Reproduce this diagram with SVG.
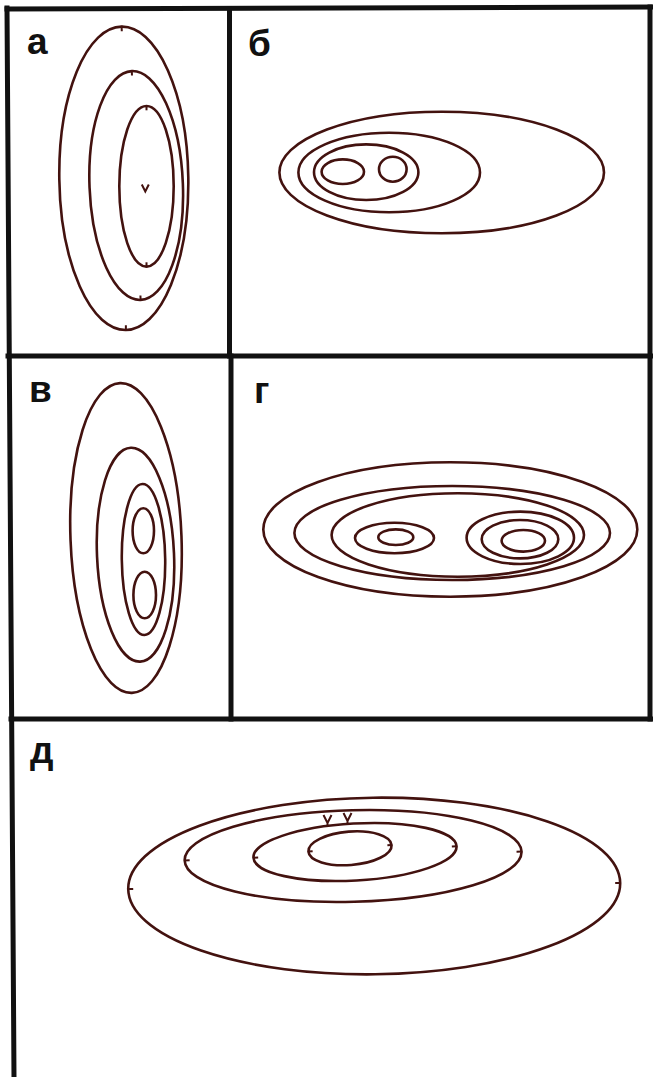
<svg xmlns="http://www.w3.org/2000/svg" width="653" height="1077" viewBox="0 0 653 1077">
<style>
.frame{stroke:#111;stroke-width:5;fill:none;stroke-linecap:square}
.ring{fill:none;stroke:#43120f;stroke-width:2.6}
.tick{stroke:#43120f;stroke-width:2;fill:none}
.lbl{font-family:"Liberation Sans",Arial,sans-serif;font-weight:bold;font-size:37px;fill:#111}
</style>
<rect width="653" height="1077" fill="#fff"/>
<g id="frame">
<line class="frame" x1="7" y1="9" x2="653" y2="7"/>
<line class="frame" x1="7" y1="8" x2="14" y2="1077"/>
<line class="frame" x1="650" y1="7" x2="650" y2="719"/>
<line class="frame" x1="229.5" y1="9" x2="229.5" y2="356"/>
<line class="frame" x1="8" y1="356" x2="653" y2="356"/>
<line class="frame" x1="231" y1="356" x2="231" y2="719"/>
<line class="frame" x1="11" y1="719" x2="653" y2="719"/>
</g>
<g id="panel-a">
<text class="lbl" x="27" y="54">а</text>
<g transform="translate(123.8,178.3) rotate(-0.8)"><ellipse class="ring" rx="64.5" ry="151.7"/><line class="tick" x1="0" y1="-152.5" x2="0" y2="-147"/><line class="tick" x1="0" y1="152.5" x2="0" y2="147"/></g>
<g transform="translate(136.2,185.5) rotate(-2.2)"><ellipse class="ring" rx="46.7" ry="114.5"/><line class="tick" x1="0" y1="-115.3" x2="0" y2="-110"/><line class="tick" x1="0" y1="115.3" x2="0" y2="110"/></g>
<g transform="translate(146.5,186.3)"><ellipse class="ring" rx="27.2" ry="80.3"/><line class="tick" x1="0" y1="-81" x2="0" y2="-76"/><line class="tick" x1="0" y1="81" x2="0" y2="76"/></g>
<polyline class="tick" points="141.8,184.5 145.3,191.5 148.8,184.5"/>
</g>
<g id="panel-b">
<text class="lbl" x="248" y="56">б</text>
<ellipse class="ring" cx="441.7" cy="172.5" rx="162.3" ry="60.8"/>
<ellipse class="ring" cx="389.2" cy="172.5" rx="90.8" ry="39.8"/>
<ellipse class="ring" cx="366.2" cy="172.2" rx="52.2" ry="27.8"/>
<ellipse class="ring" cx="342.8" cy="171.7" rx="21.2" ry="12.3"/>
<ellipse class="ring" cx="392.8" cy="169.2" rx="13.8" ry="12.5"/>
</g>
<g id="panel-v">
<text class="lbl" x="29" y="402">в</text>
<ellipse class="ring" rx="55.5" ry="155" transform="translate(126,538) rotate(-2.2)"/>
<ellipse class="ring" rx="38.5" ry="107" transform="translate(135.5,554.7) rotate(-2.5)"/>
<ellipse class="ring" rx="21.7" ry="75.5" transform="translate(143.5,559.5) rotate(-0.7)"/>
<ellipse class="ring" cx="143.3" cy="530.8" rx="10.7" ry="22.5"/>
<ellipse class="ring" cx="144.7" cy="595" rx="11.3" ry="23.3"/>
</g>
<g id="panel-g">
<text class="lbl" x="254" y="403">г</text>
<ellipse class="ring" cx="450.3" cy="529.5" rx="187" ry="67.2"/>
<ellipse class="ring" cx="452.2" cy="533" rx="157.8" ry="47"/>
<ellipse class="ring" cx="457.8" cy="535" rx="126.2" ry="41.7"/>
<ellipse class="ring" cx="394.5" cy="538" rx="39.5" ry="15.3"/>
<ellipse class="ring" cx="395.8" cy="537.2" rx="17.5" ry="7.8"/>
<ellipse class="ring" cx="520.3" cy="537.8" rx="53.7" ry="26.2"/>
<ellipse class="ring" cx="520" cy="539.2" rx="38.3" ry="19.2"/>
<ellipse class="ring" cx="523.3" cy="540.8" rx="21.7" ry="10.8"/>
</g>
<g id="panel-d">
<text class="lbl" x="30" y="763">д</text>
<g transform="translate(374.2,886) rotate(-0.7)"><ellipse class="ring" rx="246" ry="88.3"/><line class="tick" x1="-246.5" y1="0" x2="-241" y2="0"/><line class="tick" x1="246.5" y1="0" x2="241" y2="0"/></g>
<g transform="translate(353.1,856) rotate(-1.5)"><ellipse class="ring" rx="168.5" ry="45.8"/><line class="tick" x1="-169" y1="0" x2="-163.5" y2="0"/><line class="tick" x1="169" y1="0" x2="163.5" y2="0"/></g>
<g transform="translate(355,852) rotate(-3.2)"><ellipse class="ring" rx="101.7" ry="28.5"/><line class="tick" x1="-102.2" y1="0" x2="-97" y2="0"/><line class="tick" x1="102.2" y1="0" x2="97" y2="0"/></g>
<g transform="translate(350,848.3) rotate(-4.5)"><ellipse class="ring" rx="41.7" ry="16.7"/><line class="tick" x1="-42.2" y1="0" x2="-37.5" y2="0"/><line class="tick" x1="42.2" y1="0" x2="37.5" y2="0"/></g>
<path class="tick" d="M323.5,815 L327.5,823 L331.5,815 M327.5,823 L327.5,826.5 M343.5,813 L347.5,821 L351.5,813 M347.5,821 L347.5,824.5"/>
</g>
</svg>
